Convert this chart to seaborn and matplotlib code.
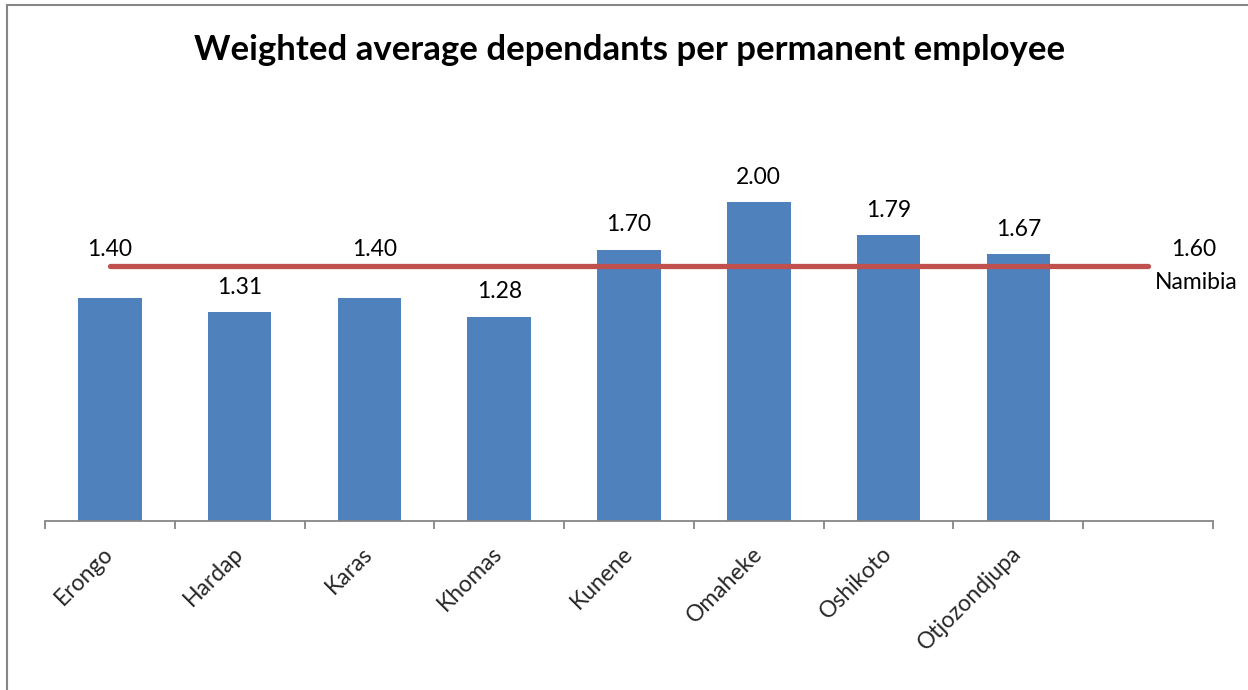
import matplotlib
matplotlib.use("Agg")
import matplotlib.pyplot as plt
import seaborn as sns
import pandas as pd
from matplotlib.patches import Rectangle

regions = ["Erongo", "Hardap", "Karas", "Khomas", "Kunene", "Omaheke", "Oshikoto", "Otjozondjupa"]
dependants = [1.40, 1.31, 1.40, 1.28, 1.70, 2.00, 1.79, 1.67]
namibia_label = "Namibia"
namibia_value = 1.60
title = "Weighted average dependants per permanent employee"

sns.set_theme(style="white")
plt.rcParams['font.family'] = ['Lato', 'DejaVu Sans']

W, H = 1248, 690
fig = plt.figure(figsize=(W / 100, H / 100), dpi=100)
ax = fig.add_axes([45 / W, 169 / H, (1213 - 45) / W, (521 - 122) / H])

df = pd.DataFrame({"region": regions, "value": dependants})
sns.barplot(data=df, x="region", y="value", order=regions, color="#4F81BD",
            saturation=1, width=0.49, ax=ax, edgecolor="#4F81BD", linewidth=0)

n_slots = len(regions) + 1
ax.set_xlim(-0.5, n_slots - 0.5)
ax.set_ylim(0, 2.5)

# Namibia reference line spanning first category to extra slot
ax.plot([0, n_slots - 1], [namibia_value, namibia_value], color="#C0504D",
        lw=3.8, solid_capstyle="round", zorder=3)

fs = 16.5
# value labels
raised = {"Erongo": (0, 1.70), "Karas": (0.04, 1.70)}
for i, (r, v) in enumerate(zip(regions, dependants)):
    if r in raised:
        dx, yy = raised[r]
        ax.text(i + dx, yy, f"{v:.2f}", ha="center", va="center", fontsize=fs, color="black")
    else:
        ax.text(i, v + 0.155, f"{v:.2f}", ha="center", va="center", fontsize=fs, color="black")

ax.text(n_slots - 1 + 0.35, 1.70, f"{namibia_value:.2f}", ha="center", va="center",
        fontsize=fs, color="black", clip_on=False)
ax.text(n_slots - 1 + 0.37, 1.495, namibia_label, ha="center", va="center",
        fontsize=fs, color="black", clip_on=False)

# axes styling
for s in ["top", "right", "left"]:
    ax.spines[s].set_visible(False)
ax.spines["bottom"].set_color("#868686")
ax.spines["bottom"].set_linewidth(1.3)
ax.set_yticks([])
ax.set_xlabel("")
ax.set_ylabel("")
ax.set_xticks(range(len(regions)))
ax.set_xticklabels(regions, rotation=45, ha="right", va="center",
                   rotation_mode="anchor", fontsize=fs)
ax.tick_params(axis="x", which="major", length=0, pad=21)
ax.set_xticks([i - 0.5 for i in range(n_slots + 1)], minor=True)
ax.tick_params(axis="x", which="minor", bottom=True, length=6, width=1.3,
               color="#868686", direction="out")

fig.text(630 / W, 1 - 50 / H, title, ha="center", va="center", fontsize=25,
         fontweight="bold", color="black")

# outer chart border
fig.patches.append(Rectangle((7 / W, -0.05), 1.1, 1 - 5 / H + 0.05, transform=fig.transFigure,
                             fill=False, edgecolor="#868686", linewidth=1.5))

fig.savefig("out.png", dpi=100, facecolor="white")
